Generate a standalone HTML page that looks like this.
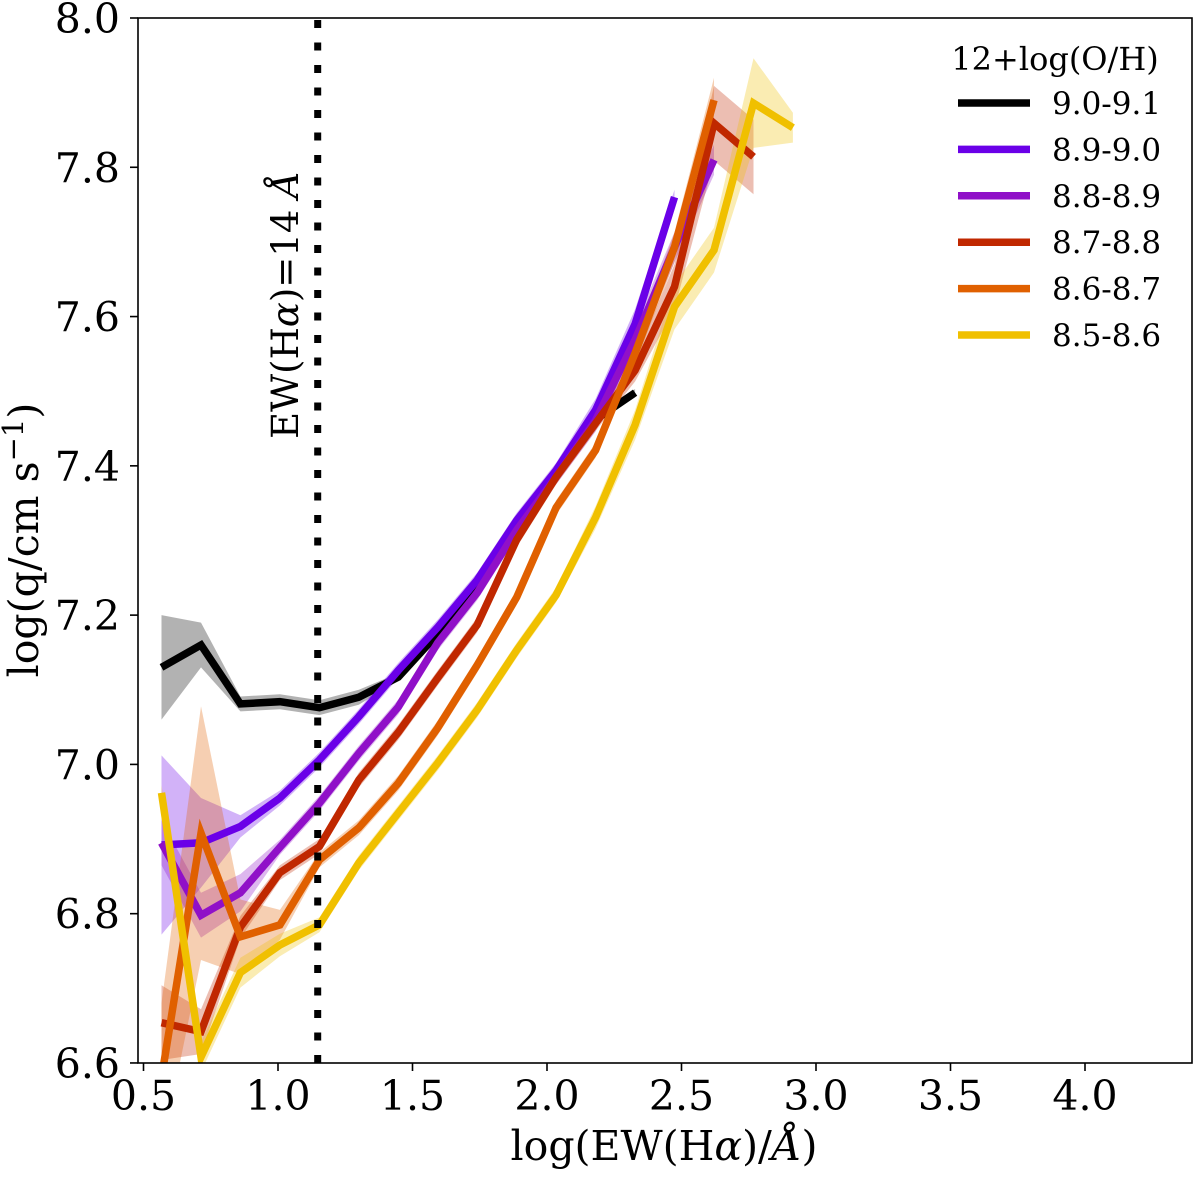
<!DOCTYPE html>
<html><head><meta charset="utf-8"><style>
body{margin:0;background:#fff}
svg text{font-family:"DejaVu Serif","Liberation Serif",serif;fill:#000}
</style></head><body>
<svg id="chart" width="1200" height="1178" viewBox="0 0 1200 1178" xmlns="http://www.w3.org/2000/svg">
<defs><clipPath id="clip"><rect x="138" y="18" width="1054" height="1045"/></clipPath></defs>
<rect x="0" y="0" width="1200" height="1178" fill="#fff"/>
<g id="bands" clip-path="url(#clip)"></g>
<g id="lines" clip-path="url(#clip)"></g>
<line x1="317.7" y1="1063" x2="317.7" y2="18" stroke="#000" stroke-width="7" stroke-dasharray="8 14.5"/>
<text transform="translate(298,305) rotate(-90)" text-anchor="middle" font-size="37">EW(H<tspan font-style="italic">α</tspan>)=14 <tspan font-style="italic">Å</tspan></text>
<rect x="138" y="18" width="1054" height="1045" fill="none" stroke="#000" stroke-width="1.6"/>
<g id="xticks"></g><g id="yticks"></g>
<text x="664" y="1160" text-anchor="middle" font-size="41">log(EW(H<tspan font-style="italic">α</tspan>)/<tspan font-style="italic">Å</tspan>)</text>
<text transform="translate(38,540) rotate(-90)" text-anchor="middle" font-size="41">log(q/cm s<tspan dy="-15" font-size="29">−1</tspan><tspan dy="15">)</tspan></text>
<g id="legend">
<text x="1055" y="70" text-anchor="middle" font-size="32">12+log(O/H)</text>
</g>
</svg>
<script>
const categories = ["9.0-9.1","8.9-9.0","8.8-8.9","8.7-8.8","8.6-8.7","8.5-8.6"];
const colors = ["#000000","#6a00e8","#9010c8","#c02800","#e06000","#f0c000"];
const xStart = 0.567, xStep = 0.1467;
const black = [7.130,7.160,7.081,7.084,7.076,7.090,7.117,7.175,7.245,7.322,7.392,7.462,7.498];
const blue = [6.892,6.895,6.917,6.955,7.006,7.064,7.126,7.184,7.247,7.327,7.394,7.475,7.59,7.760];
const purple = [6.895,6.798,6.828,6.889,6.948,7.015,7.077,7.163,7.230,7.314,7.385,7.461,7.569,7.693,7.810];
const red = [6.654,6.642,6.782,6.855,6.890,6.979,7.043,7.116,7.187,7.301,7.385,7.457,7.528,7.640,7.859,7.814];
const orange = [6.58,6.908,6.769,6.785,6.872,6.915,6.975,7.049,7.133,7.224,7.344,7.421,7.551,7.693,7.890];
const yellow = [6.962,6.608,6.721,6.758,6.785,6.868,6.935,7.002,7.073,7.153,7.227,7.331,7.455,7.613,7.689,7.886,7.853];
const blackErr = [0.07,0.03,0.01,0.01,0.01,0.01,0.005,0.005,0.005,0.005,0.005,0.005,0.005];
const blueErr = [0.12,0.06,0.015,0.01,0.01,0.01,0.01,0.01,0.01,0.01,0.01,0.015,0.02,0.01];
const purpleErr = [0.03,0.03,0.025,0.01,0.01,0.01,0.01,0.01,0.01,0.01,0.01,0.015,0.02,0.02,0.02];
const redErr = [0.05,0.03,0.015,0.01,0.01,0.01,0.01,0.01,0.01,0.01,0.01,0.01,0.015,0.03,0.05,0.05];
const orangeErr = [0.1,0.17,0.05,0.02,0.01,0.01,0.01,0.01,0.01,0.01,0.01,0.01,0.015,0.02,0.03];
const yellowErr = [0.01,0.02,0.02,0.015,0.01,0.01,0.01,0.01,0.01,0.01,0.01,0.015,0.02,0.03,0.03,0.06,0.02];
const xTicks = [0.5,1.0,1.5,2.0,2.5,3.0,3.5,4.0];
const xTickLabels = ["0.5","1.0","1.5","2.0","2.5","3.0","3.5","4.0"];
const yTicks = [6.6,6.8,7.0,7.2,7.4,7.6,7.8,8.0];
const yTickLabels = ["6.6","6.8","7.0","7.2","7.4","7.6","7.8","8.0"];

const NS="http://www.w3.org/2000/svg";
function X(v){return 143.5+(v-0.5)*269;}
function Y(v){return 18+(8.0-v)*746.4;}
function mk(t){return document.createElementNS(NS,t);}
const series=[black,blue,purple,red,orange,yellow];
const errs=[blackErr,blueErr,purpleErr,redErr,orangeErr,yellowErr];
const names=["black","blue","purple","red","orange","yellow"];
const bands=document.getElementById('bands'), lines=document.getElementById('lines');
series.forEach((s,k)=>{
  const e=errs[k];
  const up=s.map((v,i)=>X(xStart+i*xStep).toFixed(1)+","+Y(v+e[i]).toFixed(1));
  const lo=s.map((v,i)=>X(xStart+i*xStep).toFixed(1)+","+Y(v-e[i]).toFixed(1)).reverse();
  const b=mk('polygon');
  b.setAttribute('points',up.concat(lo).join(' '));
  b.setAttribute('fill',colors[k]);b.setAttribute('fill-opacity','0.3');
  
  
  bands.appendChild(b);
  const l=mk('polyline');
  l.setAttribute('points',s.map((v,i)=>X(xStart+i*xStep).toFixed(1)+","+Y(v).toFixed(1)).join(' '));
  l.setAttribute('fill','none');l.setAttribute('stroke',colors[k]);l.setAttribute('stroke-width','7.5');
  
  
  lines.appendChild(l);
});
const xt=document.getElementById('xticks');
xTicks.forEach((v,i)=>{
  const t=mk('line');t.setAttribute('x1',X(v));t.setAttribute('x2',X(v));t.setAttribute('y1',1063);t.setAttribute('y2',1071);t.setAttribute('stroke','#000');t.setAttribute('stroke-width','1.6');
  
  
  xt.appendChild(t);
  const s=mk('text');s.setAttribute('x',X(v));s.setAttribute('y',1110);s.setAttribute('text-anchor','middle');s.setAttribute('font-size','41');s.textContent=xTickLabels[i];
  
  
  xt.appendChild(s);
});
const yt=document.getElementById('yticks');
yTicks.forEach((v,i)=>{
  const t=mk('line');t.setAttribute('x1',130);t.setAttribute('x2',138);t.setAttribute('y1',Y(v));t.setAttribute('y2',Y(v));t.setAttribute('stroke','#000');t.setAttribute('stroke-width','1.6');
  
  
  yt.appendChild(t);
  const s=mk('text');s.setAttribute('x',120);s.setAttribute('y',Y(v)+15);s.setAttribute('text-anchor','end');s.setAttribute('font-size','41');s.textContent=yTickLabels[i];
  
  
  yt.appendChild(s);
});
const lg=document.getElementById('legend');
categories.forEach((c,i)=>{
  const y=103+i*46.4;
  const g=mk('g');
  
  
  const l=mk('line');l.setAttribute('x1',958);l.setAttribute('x2',1030);l.setAttribute('y1',y);l.setAttribute('y2',y);l.setAttribute('stroke',colors[i]);l.setAttribute('stroke-width','7.5');
  g.appendChild(l);
  const t=mk('text');t.setAttribute('x',1052);t.setAttribute('y',y+11);t.setAttribute('font-size','31');t.textContent=c;
  g.appendChild(t);
  lg.appendChild(g);
});
</script>
</body></html>
